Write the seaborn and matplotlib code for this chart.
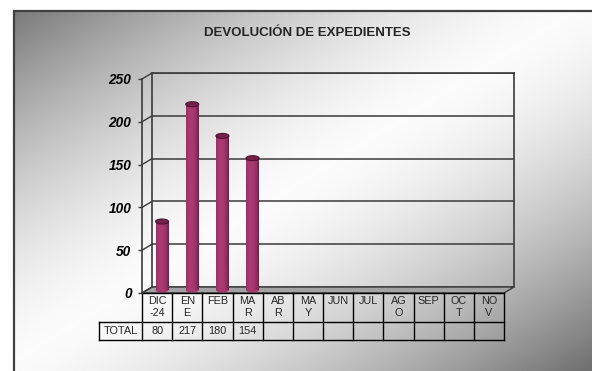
import numpy as np
import pandas as pd
import matplotlib
matplotlib.use("Agg")
import matplotlib.pyplot as plt
import matplotlib.transforms as mtransforms
from matplotlib.patches import Ellipse, Polygon
import seaborn as sns

# ---- data -------------------------------------------------------------
title = "DEVOLUCIÓN DE EXPEDIENTES"
months = ["DIC\n-24", "EN\nE", "FEB", "MA\nR", "AB\nR", "MA\nY",
          "JUN", "JUL", "AG\nO", "SEP", "OC\nT", "NO\nV"]
months_with_data = ["DIC\n-24", "EN\nE", "FEB", "MA\nR"]
totals = [80, 217, 180, 154]
row_label = "TOTAL"
y_ticks = [0, 50, 100, 150, 200, 250]

df = pd.DataFrame({"mes": months_with_data, "total": totals})

sns.set_theme(style="white")
plt.rcParams["font.family"] = ["Liberation Sans", "DejaVu Sans"]

# ---- figure & layout (pixels) -----------------------------------------
W, H = 592, 371
fig = plt.figure(figsize=(W / 100, H / 100), dpi=100)
fig.patch.set_facecolor("white")

FX0, FX1 = 142, 504          # front plane, left/right
FY0, FYT = 293, 79           # front plane, value 0 / value 250
DEPTH_X, DEPTH_Y = 10, 6     # back wall offset
LINE = "#3a3a3a"


def plane(dx, dy):
    return [(FX0 + dx) / W, (H - FY0 + dy) / H, (FX1 - FX0) / W, (FY0 - FYT) / H]


# ---- chart-area background: diagonal grey-white-grey gradient ----------
ax_bg = fig.add_axes([0, 0, 1, 1])
ax_bg.set_xlim(0, W)
ax_bg.set_ylim(H, 0)
ax_bg.axis("off")
L, T = 14, 11
xs = np.linspace(L, W, 300) / W
ys = np.linspace(T, H, 200) / H
t = (xs[None, :] + ys[:, None]) / 2
d = np.abs(t - 0.5) / 0.5
g = np.clip(0.985 - 0.55 * d ** 1.5, 0, 1)
ax_bg.imshow(g, cmap="gray", vmin=0, vmax=1, extent=(L, W, H, T),
             aspect="auto", interpolation="bilinear")
ax_bg.plot([L, L, W], [H, T, T], color="#404040", lw=1.6, solid_joinstyle="miter")
ax_bg.set_xlim(0, W)
ax_bg.set_ylim(H, 0)

# ---- back wall with gridlines -----------------------------------------
ax_b = fig.add_axes(plane(DEPTH_X, DEPTH_Y))
ax_b.set_facecolor("none")
ax_b.set_xlim(-0.5, 11.5)
ax_b.set_ylim(0, 250)
ax_b.set_yticks(y_ticks)
ax_b.set_xticks([])
ax_b.tick_params(left=False, labelleft=False)
ax_b.yaxis.grid(True, color=LINE, lw=1.1)
for s in ["left", "top", "right"]:
    ax_b.spines[s].set_visible(True)
    ax_b.spines[s].set_color(LINE)
    ax_b.spines[s].set_linewidth(1.2)
ax_b.spines["bottom"].set_visible(False)

cat_px = (FX1 - FX0) / len(months)
val_px = (FY0 - FYT) / 250
ddx = -DEPTH_X / cat_px
ddy = -DEPTH_Y / val_px

# floor slab
floor = Polygon([(-0.5, 0), (11.5, 0), (11.5 + ddx, ddy), (-0.5 + ddx, ddy)],
                closed=True, facecolor="#a3a3a3", edgecolor=LINE, lw=1.0,
                clip_on=False, zorder=1)
ax_b.add_patch(floor)
# side wall gridlines
for v in y_ticks:
    ax_b.plot([-0.5, -0.5 + ddx], [v, v + ddy], color=LINE, lw=1.0, clip_on=False)

# ---- cylinders --------------------------------------------------------
ax_m = fig.add_axes(plane(DEPTH_X / 2, DEPTH_Y / 2))
ax_m.set_facecolor("none")
sns.barplot(data=df, x="mes", y="total", order=months, color="#993366",
            width=0.43, errorbar=None, ax=ax_m)

u = np.linspace(0, 1, 64)
shade = 0.62 + 0.5 * np.clip(1 - ((u - 0.38) / 0.62) ** 2, 0, 1) ** 0.7
base = np.array([0.60, 0.20, 0.40])
grad = np.clip(shade[None, :, None] * base[None, None, :], 0, 1)
cap_h = 5 / val_px
for p in list(ax_m.patches):
    x0, w, h = p.get_x(), p.get_width(), p.get_height()
    p.set_visible(False)
    ax_m.imshow(grad, extent=(x0, x0 + w, 0, h), aspect="auto",
                interpolation="bilinear", zorder=2)
    ax_m.add_patch(Ellipse((x0 + w / 2, 0), w, cap_h, facecolor=grad[0, 30],
                           edgecolor="none", zorder=1.9, clip_on=False))
    ax_m.add_patch(Ellipse((x0 + w / 2, h), w, cap_h, facecolor="#74224c",
                           edgecolor="#4a1230", lw=0.8, zorder=3, clip_on=False))
ax_m.set_xlim(-0.5, 11.5)
ax_m.set_ylim(0, 250)
ax_m.axis("off")

# ---- front axis -------------------------------------------------------
ax_f = fig.add_axes(plane(0, 0))
ax_f.set_facecolor("none")
ax_f.set_xlim(-0.5, 11.5)
ax_f.set_ylim(0, 250)
ax_f.set_yticks(y_ticks)
ax_f.set_yticklabels([str(v) for v in y_ticks], fontsize=9.8,
                     fontweight="bold", fontstyle="italic", color="black")
ax_f.set_xticks([])
ax_f.tick_params(axis="y", direction="out", length=3, width=1, color=LINE,
                 pad=4.5, left=True)
for s in ["top", "right", "bottom"]:
    ax_f.spines[s].set_visible(False)
ax_f.spines["left"].set_color(LINE)
ax_f.spines["left"].set_linewidth(1.2)

# ---- data table under the axis ----------------------------------------
tr = mtransforms.blended_transform_factory(ax_f.transData, ax_f.transAxes)


def ya(ypx):
    return (FY0 - ypx) / (FY0 - FYT)


y_top, y_mid, y_bot = ya(293), ya(322), ya(340)
x_lab = -0.5 - 43 / cat_px
x_end = len(months) - 0.5
kw = dict(color="black", lw=1.0, transform=tr, clip_on=False,
          solid_capstyle="projecting")
ax_f.plot([-0.5, x_end], [y_top, y_top], **kw)
ax_f.plot([x_lab, x_end], [y_mid, y_mid], **kw)
ax_f.plot([x_lab, x_end], [y_bot, y_bot], **kw)
for i in range(len(months) + 1):
    ax_f.plot([i - 0.5, i - 0.5], [y_top, y_bot], **kw)
ax_f.plot([x_lab, x_lab], [y_mid, y_bot], **kw)

TAB_FS = 7.8
for i, m in enumerate(months):
    ax_f.text(i, ya(296.5), m, ha="center", va="top", fontsize=TAB_FS,
              linespacing=1.25, transform=tr, clip_on=False)
for i, v in enumerate(totals):
    ax_f.text(i, ya(331.5), str(v), ha="center", va="center", fontsize=TAB_FS,
              transform=tr, clip_on=False)
ax_f.text((x_lab - 0.5) / 2, ya(331.5), row_label, ha="center", va="center",
          fontsize=TAB_FS, transform=tr, clip_on=False)

# ---- title ------------------------------------------------------------
fig.text(307.5 / W, 1 - 33 / H, title, ha="center", va="center",
         fontsize=9.5, fontweight="bold")

fig.savefig("out.png", dpi=100)
